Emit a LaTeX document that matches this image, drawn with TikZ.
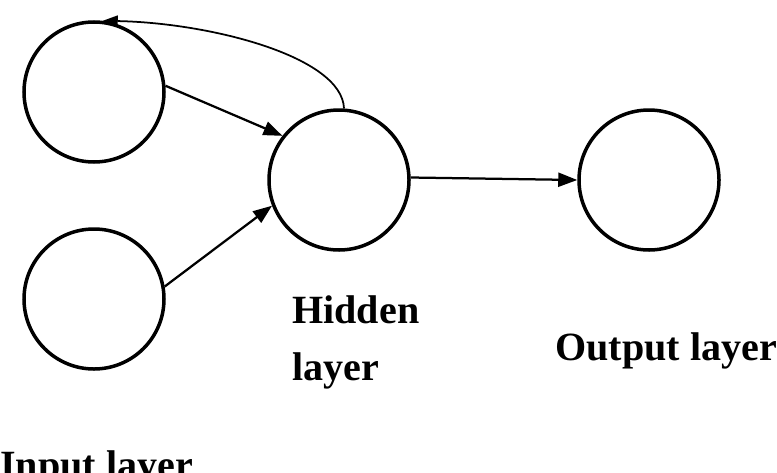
\documentclass[tikz,border=0pt]{standalone}
\usepackage{fontspec}
\setmainfont{Liberation Serif}
\usetikzlibrary{arrows.meta, positioning}

\begin{document}
\begin{tikzpicture}[
    neuron/.style={draw, circle, line width=0.07cm, minimum size=2.8cm, inner sep=0pt},
    conn/.style={-{Triangle[length=0.38cm, width=0.28cm]}, line width=0.045cm},
    loopback/.style={-{Triangle[length=0.3cm, width=0.22cm]}, line width=0.035cm},
    lbl/.style={font=\fontsize{22.8}{31.9}\selectfont\bfseries, align=left, inner sep=0pt, anchor=base west}
  ]
    \useasboundingbox (0,0) rectangle (15.54,-9.44);
    \node[neuron] (in1) at (1.88,-1.84) {};
    \node[neuron] (in2) at (1.88,-5.98) {};
    \node[neuron] (hid) at (6.78,-3.60) {};
    \node[neuron] (out) at (12.98,-3.60) {};
    \draw[conn] (in1.5) -- (hid.142);
    \draw[conn] (in2.10) -- (hid.201);
    \draw[conn] (hid.2) -- (out.west);
    \draw[loopback] (hid.86) .. controls +(-0.04,1.04) and +(2.14,-0.04) .. (in1.83);
    \node[lbl] (hidlbl) at (5.84,-7.60) {Hidden\\layer};
    \node[lbl] (outlbl) at (11.10,-7.20) {Output layer};
    \node[lbl] (inlbl) at (0.0,-9.57) {Input layer};
  \end{tikzpicture}
\end{document}
